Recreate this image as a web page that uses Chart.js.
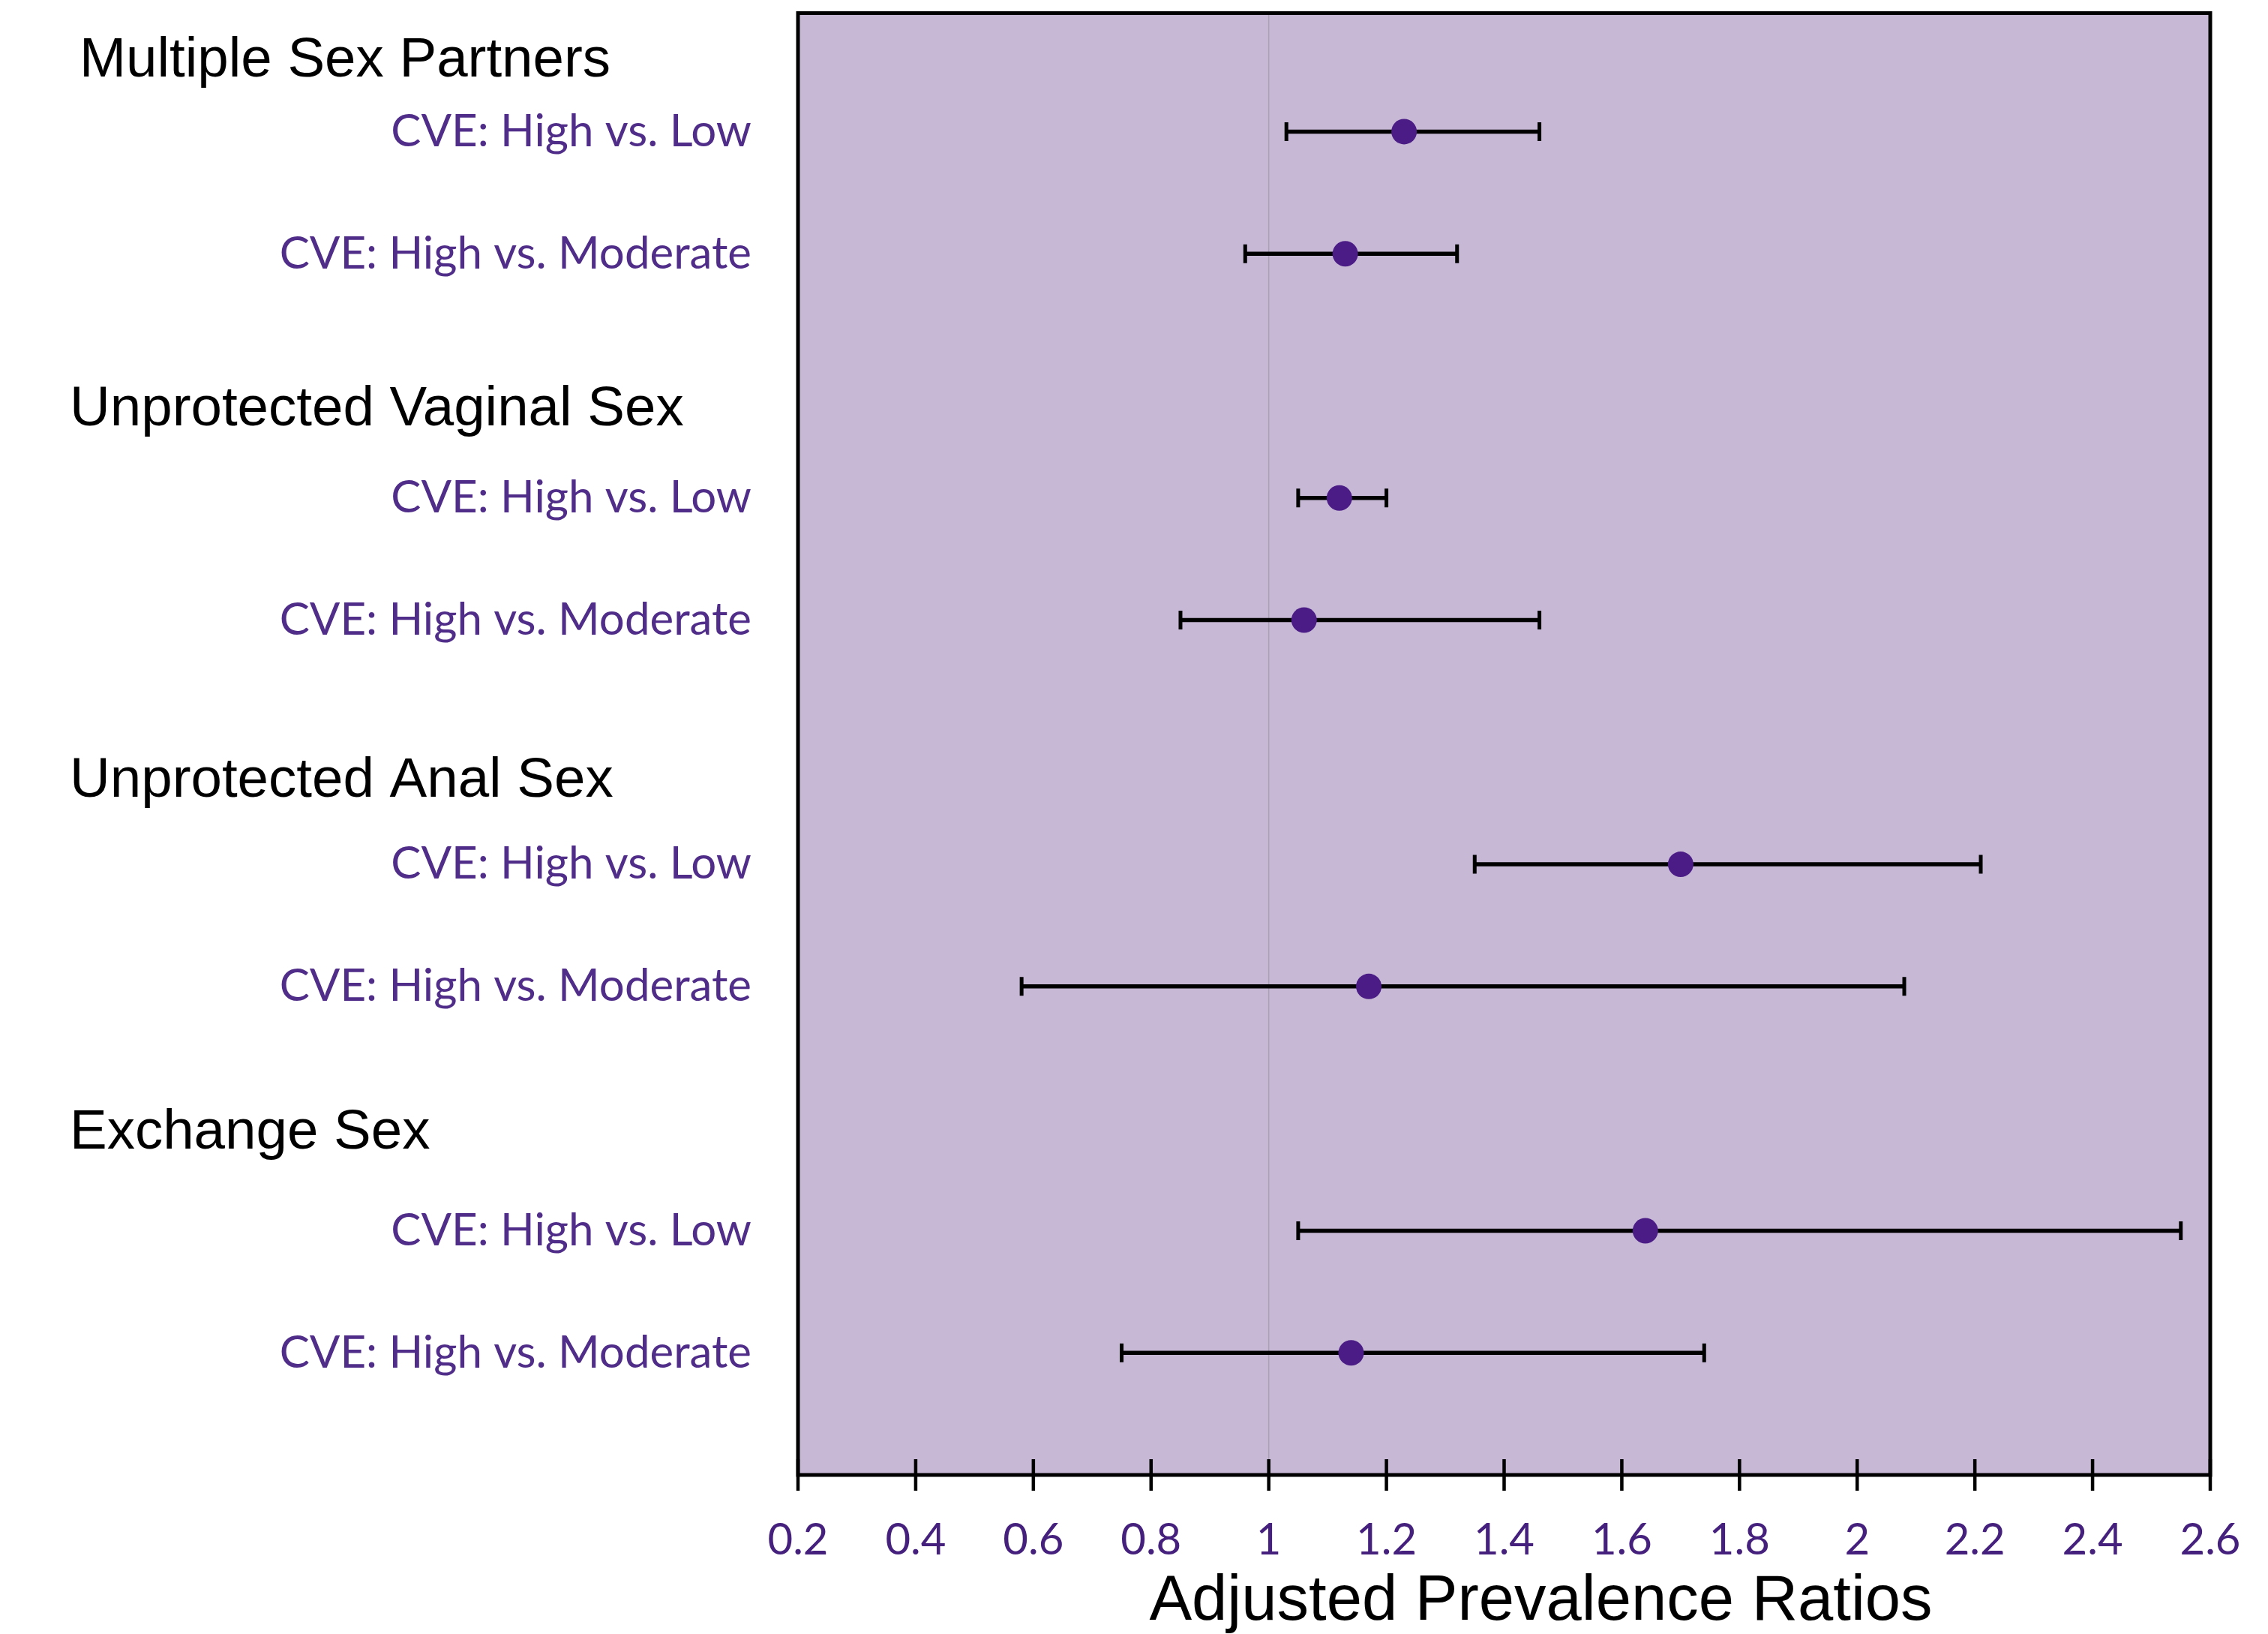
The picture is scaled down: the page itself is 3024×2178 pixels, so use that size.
<!DOCTYPE html>
<html><head><meta charset="utf-8">
<script src="https://cdn.jsdelivr.net/npm/chart.js@4"></script>
<style>html,body{margin:0;padding:0;background:#fff}#wrap{width:3024px;height:2178px}</style>
</head><body><div id="wrap"><canvas id="c" width="3024" height="2178"></canvas></div>
<script>
// ---- data ----
const groups = ['Multiple Sex Partners', 'Unprotected Vaginal Sex', 'Unprotected Anal Sex', 'Exchange Sex'];
const groupRows = [0.42, 3.28, 6.32, 9.2];
const rowLabels = ['CVE: High vs. Low', 'CVE: High vs. Moderate',
                   'CVE: High vs. Low', 'CVE: High vs. Moderate',
                   'CVE: High vs. Low', 'CVE: High vs. Moderate',
                   'CVE: High vs. Low', 'CVE: High vs. Moderate'];
const rowPositions = [1, 2, 4, 5, 7, 8, 10, 11];
const estimates = [1.23, 1.13, 1.12, 1.06, 1.70, 1.17, 1.64, 1.14];
const lower     = [1.03, 0.96, 1.05, 0.85, 1.35, 0.58, 1.05, 0.75];
const upper     = [1.46, 1.32, 1.20, 1.46, 2.21, 2.08, 2.55, 1.74];
const xTicks = [0.2, 0.4, 0.6, 0.8, 1, 1.2, 1.4, 1.6, 1.8, 2, 2.2, 2.4, 2.6];
const xTickLabels = ['0.2', '0.4', '0.6', '0.8', '1', '1.2', '1.4', '1.6', '1.8', '2', '2.2', '2.4', '2.6'];
const refValue = 1;
const xTitle = 'Adjusted Prevalence Ratios';

// ---- style ----
const PURPLE_PT = '#4B1C86';
const PURPLE_TX = '#4F2D88';
const BG = '#C7B8D6';
const groupX = [106, 93, 93, 93];

const datasets = [];
datasets.push({
  type: 'scatter', order: 0,
  data: estimates.map((v, i) => ({x: v, y: rowPositions[i]})),
  pointRadius: 17, pointHoverRadius: 17,
  backgroundColor: PURPLE_PT, borderColor: PURPLE_PT, borderWidth: 0
});
rowPositions.forEach((r, i) => {
  datasets.push({
    type: 'line', order: 1,
    data: [{x: lower[i], y: r}, {x: upper[i], y: r}],
    borderColor: '#000', borderWidth: 5.5,
    pointStyle: 'line', rotation: 90, pointRadius: 12.5, pointHoverRadius: 12.5,
    pointBorderColor: '#000', pointBorderWidth: 5, pointBackgroundColor: '#000'
  });
});
datasets.push({
  type: 'line', order: 2,
  data: [{x: refValue, y: 0.03}, {x: refValue, y: 12}],
  borderColor: '#A7A2AE', borderWidth: 1.5, pointRadius: 0
});

const framePlugin = {
  id: 'frame',
  beforeDraw(chart) {
    const {ctx, chartArea: a} = chart;
    ctx.save();
    ctx.fillStyle = BG;
    ctx.fillRect(a.left, a.top, a.right - a.left, a.bottom - a.top);
    ctx.restore();
  },
  afterDraw(chart) {
    const {ctx, chartArea: a, scales} = chart;
    ctx.save();
    ctx.strokeStyle = '#000';
    ctx.lineWidth = 5;
    ctx.strokeRect(a.left, a.top, a.right - a.left, a.bottom - a.top);
    ctx.lineWidth = 4.5;
    ctx.beginPath();
    xTicks.forEach(v => {
      const x = scales.x.getPixelForValue(v);
      ctx.moveTo(x, a.bottom - 21);
      ctx.lineTo(x, a.bottom + 21);
    });
    ctx.stroke();
    ctx.fillStyle = '#000';
    ctx.font = '74.5px "Liberation Sans", Arial, sans-serif';
    ctx.textAlign = 'left';
    ctx.textBaseline = 'middle';
    groups.forEach((g, i) => {
      ctx.fillText(g, groupX[i], scales.y.getPixelForValue(groupRows[i]));
    });
    ctx.font = '85px "Liberation Sans", Arial, sans-serif';
    ctx.textAlign = 'center';
    ctx.fillText(xTitle, (a.left + a.right) / 2 + 49, 2136);
    ctx.restore();
  }
};

const zeroPad = s => { s.paddingTop = 0; s.paddingBottom = 0; s.paddingLeft = 0; s.paddingRight = 0; };

new Chart(document.getElementById('c'), {
  type: 'scatter',
  data: {datasets},
  options: {
    responsive: false, animation: false, devicePixelRatio: 1,
    layout: {padding: {left: 0, right: 77, top: 13, bottom: 0}},
    plugins: {legend: {display: false}, tooltip: {enabled: false}},
    events: [],
    scales: {
      x: {
        type: 'linear', position: 'bottom', min: 0.2, max: 2.6,
        afterBuildTicks: s => { s.ticks = xTicks.map(v => ({value: v})); },
        afterFit: s => { s.height = 212; zeroPad(s); },
        ticks: {
          callback: (v, i) => xTickLabels[i],
          font: {family: 'Lato', size: 58}, color: '#45217D', padding: 52
        },
        grid: {display: false, drawTicks: false},
        border: {display: false}
      },
      y: {
        type: 'linear', position: 'left', min: 0.03, max: 12, reverse: true,
        afterBuildTicks: s => { s.ticks = rowPositions.map(v => ({value: v})); },
        afterFit: s => { s.width = 1064; zeroPad(s); },
        ticks: {
          callback: (v, i) => rowLabels[i],
          font: {family: 'Lato', size: 60}, color: PURPLE_TX, padding: 62
        },
        grid: {display: false, drawTicks: false},
        border: {display: false}
      }
    }
  },
  plugins: [framePlugin]
});
</script>
</body></html>
